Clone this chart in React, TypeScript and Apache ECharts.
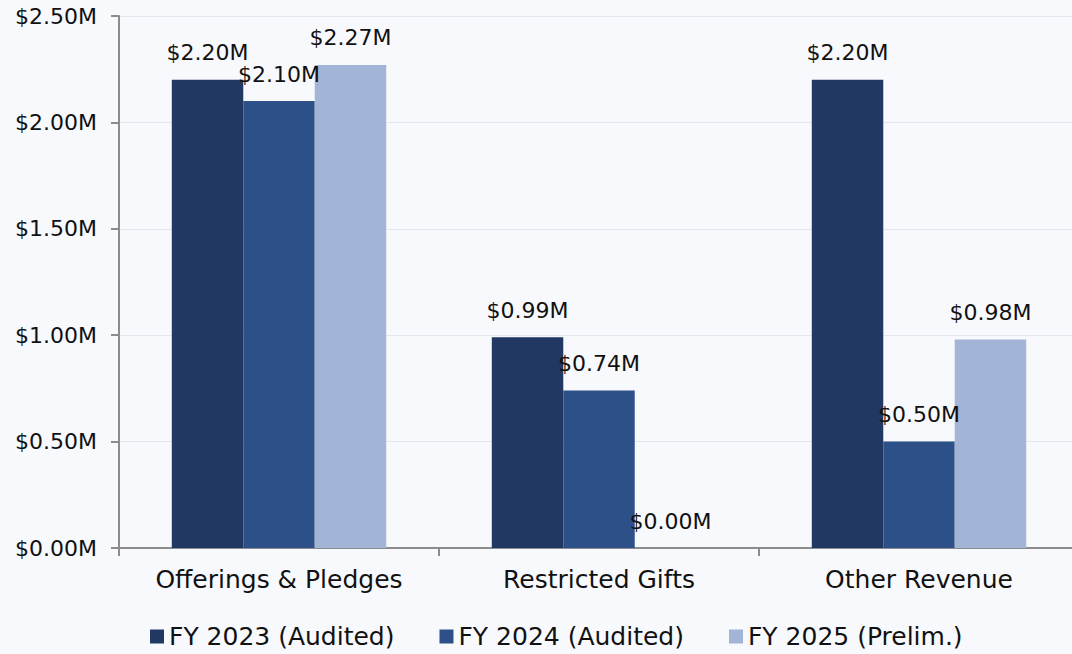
import React, { useEffect, useRef } from "react";
import * as echarts from "echarts";

const categories = ["Offerings & Pledges", "Restricted Gifts", "Other Revenue"];
const seriesNames = ["FY 2023 (Audited)", "FY 2024 (Audited)", "FY 2025 (Prelim.)"];
const fy2023 = [2.2, 0.99, 2.2];
const fy2024 = [2.1, 0.74, 0.5];
const fy2025 = [2.27, 0.0, 0.98];
const colors = ["#213863", "#2e5088", "#a2b5d6"];

const FONT = "DejaVu Sans";

export default function App() {
  const ref = useRef<HTMLDivElement>(null);
  useEffect(() => {
    if (!ref.current) return;
    const chart = echarts.init(ref.current, undefined, { renderer: "svg" });
    const data = [fy2023, fy2024, fy2025];
    chart.setOption({
      animation: false,
      backgroundColor: "#f8f9fd",
      textStyle: { fontFamily: FONT },
      grid: { left: 119, right: 1, top: 16, bottom: 106 },
      legend: {
        left: 150,
        top: 624,
        padding: 0,
        itemWidth: 14,
        itemHeight: 14,
        itemGap: 45,
        icon: "rect",
        textStyle: { fontFamily: FONT, fontSize: 25, color: "#111" },
        data: seriesNames,
      },
      xAxis: {
        type: "category",
        data: categories,
        axisLine: { lineStyle: { color: "#8c8c8c", width: 2 } },
        axisTick: { show: true, length: 8, lineStyle: { color: "#8c8c8c", width: 2 } },
        axisLabel: { fontFamily: FONT, fontSize: 25, color: "#111", margin: 19, interval: 0 },
      },
      yAxis: {
        type: "value",
        min: 0,
        max: 2.5,
        interval: 0.5,
        axisLine: { show: true, lineStyle: { color: "#8c8c8c", width: 2 } },
        axisTick: { show: true, length: 8, lineStyle: { color: "#8c8c8c", width: 2 } },
        splitLine: { lineStyle: { color: "#e3e6ec", width: 1 } },
        axisLabel: {
          fontFamily: FONT,
          fontSize: 22,
          color: "#111",
          margin: 22,
          formatter: (v: number) => "$" + v.toFixed(2) + "M",
        },
      },
      series: data.map((d, i) => ({
        name: seriesNames[i],
        type: "bar",
        data: d,
        barGap: "0%",
        barCategoryGap: "33%",
        itemStyle: { color: colors[i] },
        label: {
          show: true,
          position: "top",
          distance: 16,
          fontFamily: FONT,
          fontSize: 22,
          color: "#111",
          formatter: (p: any) => "$" + Number(p.value).toFixed(2) + "M",
        },
      })),
    });
    return () => chart.dispose();
  }, []);
  return (
    <div
      ref={ref}
      style={{ position: "fixed", left: 0, top: 0, width: 1080, height: 654 }}
    />
  );
}
